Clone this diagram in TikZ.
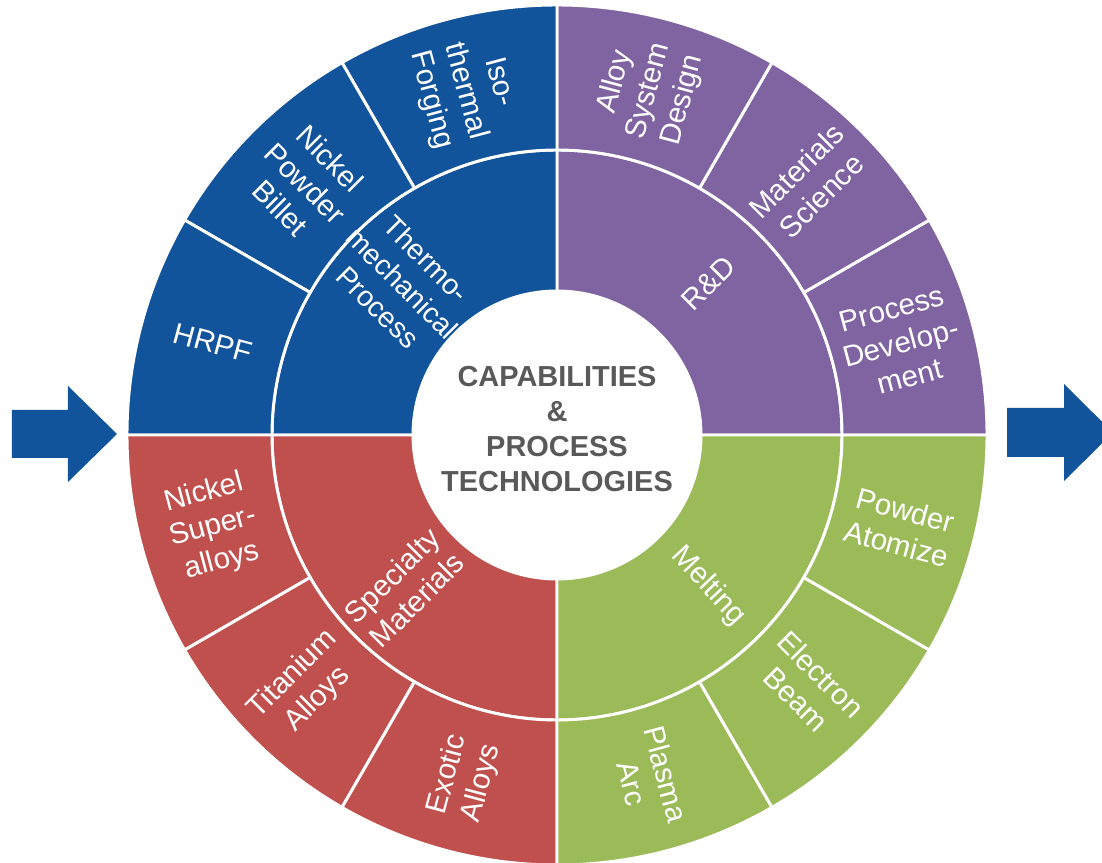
\documentclass[tikz,border=0pt]{standalone}
\usepackage{fontspec}
\setmainfont{Liberation Sans}
\definecolor{forgeblue}{RGB}{17,84,155}
\definecolor{rdpurple}{RGB}{128,100,162}
\definecolor{alloyred}{RGB}{192,80,77}
\definecolor{meltgreen}{RGB}{155,187,89}
\definecolor{hubgray}{RGB}{89,89,89}
\begin{document}
\begin{tikzpicture}[
        sector/.style={draw=white, line width=2.1pt, line join=round},
        seglabel/.style={text=white, align=center, inner sep=0pt,
                         font=\fontsize{21}{24.9}\selectfont},
        hublabel/.style={text=hubgray, align=center, inner sep=0pt,
                         font=\bfseries\fontsize{20.6}{24.9}\selectfont},
        flowarrow/.style={fill=forgeblue}
    ]
    \clip (-13.925,-10.7) rectangle (13.625,10.875);
    \fill[white] (-13.925,-10.7) rectangle (13.625,10.875);

    % inner ring: one sector per quadrant, outer ring: three per quadrant
    \foreach \col/\a in {rdpurple/0, forgeblue/90, alloyred/180, meltgreen/270} {
        \pgfmathsetmacro{\b}{\a+90}
        \filldraw[sector, fill=\col] (\a:3.6) -- (\a:7.125)
            arc[start angle=\a, end angle=\b, radius=7.125] -- (\b:3.6)
            arc[start angle=\b, end angle=\a, radius=3.6] -- cycle;
        \foreach \k in {0,1,2} {
            \pgfmathsetmacro{\s}{\a+30*\k}
            \pgfmathsetmacro{\e}{\s+30}
            \filldraw[sector, fill=\col] (\s:7.125) -- (\s:10.75)
                arc[start angle=\s, end angle=\e, radius=10.75] -- (\e:7.125)
                arc[start angle=\e, end angle=\s, radius=7.125] -- cycle;
        }
    }

    \node[hublabel] (hub) at (0,0.15) {CAPABILITIES\\\&\\PROCESS\\TECHNOLOGIES};

    % inner ring labels
    \node[seglabel, rotate=45] (rnd) at (45:5.35) {R\&D};
    \node[seglabel, rotate=-45, font=\fontsize{20.3}{24.5}\selectfont]
        (thermomech) at (135.5:5.42) {Thermo-\\mechanical\\Process};
    \node[seglabel, rotate=45] (specialty) at (225:5.4) {Specialty\\Materials};
    \node[seglabel, rotate=-47] (melting) at (315:5.35) {Melting};

    % outer ring labels
    \node[seglabel, rotate=15] (procdev) at (15:8.9) {Process\\Develop-\\ment};
    \node[seglabel, rotate=45] (matscience) at (45:8.9) {Materials\\Science};
    \node[seglabel, rotate=75] (alloydesign) at (75:8.9) {Alloy\\System\\Design};
    \node[seglabel, rotate=-75] (isoforging) at (105:8.9) {Iso-\\thermal\\Forging};
    \node[seglabel, rotate=-45] (nickelbillet) at (135:8.9) {Nickel\\Powder\\Billet};
    \node[seglabel, rotate=-15] (hrpf) at (165:8.9) {HRPF};
    \node[seglabel, rotate=15] (nickelsuper) at (195:8.9) {Nickel\\Super-\\alloys};
    \node[seglabel, rotate=45] (titanium) at (225:8.9) {Titanium\\Alloys};
    \node[seglabel, rotate=75] (exotic) at (255:8.9) {Exotic\\Alloys};
    \node[seglabel, rotate=-75] (plasma) at (285:8.9) {Plasma\\Arc};
    \node[seglabel, rotate=-45] (ebeam) at (315:8.9) {Electron\\Beam};
    \node[seglabel, rotate=-15] (powder) at (345:8.9) {Powder\\Atomize};

    % block arrows either side
    \fill[flowarrow] (-13.625,0.625) -- (-12.225,0.625) -- (-12.225,1.225) -- (-11.0,0.025)
        -- (-12.225,-1.175) -- (-12.225,-0.575) -- (-13.625,-0.575) -- cycle;
    \fill[flowarrow] (11.25,0.675) -- (12.675,0.675) -- (12.675,1.275) -- (13.9,0.06)
        -- (12.675,-1.15) -- (12.675,-0.55) -- (11.25,-0.55) -- cycle;
\end{tikzpicture}
\end{document}
